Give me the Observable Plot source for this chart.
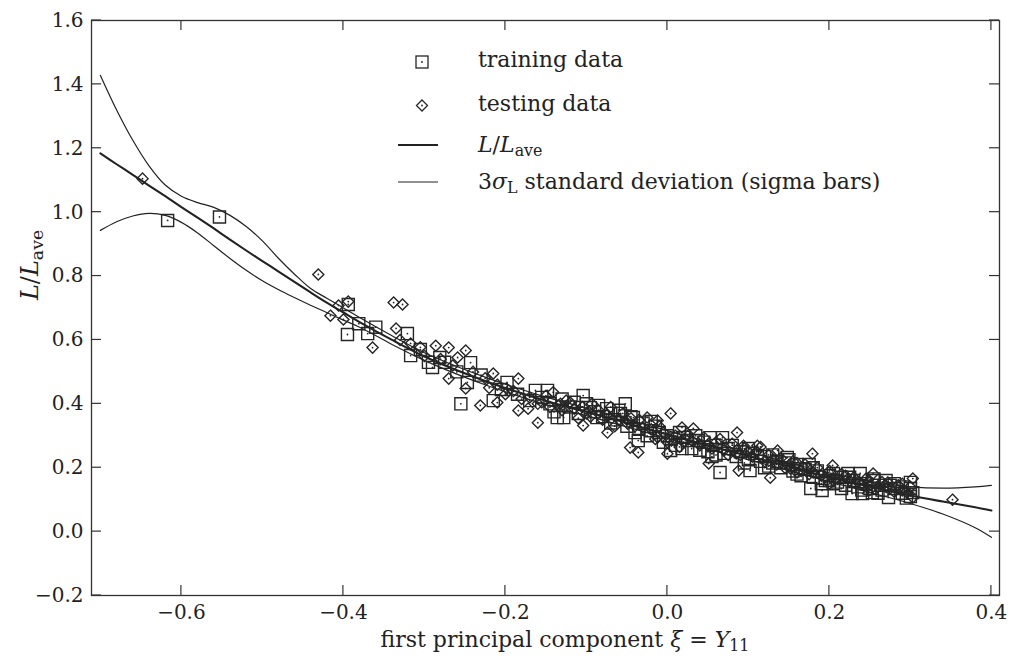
<!DOCTYPE html>
<html><head><meta charset="utf-8">
<script src="https://cdn.jsdelivr.net/npm/d3@7"></script>
<script src="https://cdn.jsdelivr.net/npm/@observablehq/plot@0.6"></script>
<style>
body{margin:0;background:#fff;}
#wrap{position:relative;width:1016px;height:666px;}
#ov{position:absolute;left:0;top:0;pointer-events:none;}
</style></head><body><div id="wrap"></div>
<script>
// x ticks / y ticks
const xTicks = [-0.6, -0.4, -0.2, 0.0, 0.2, 0.4];
const yTicks = [-0.2, 0.0, 0.2, 0.4, 0.6, 0.8, 1.0, 1.2, 1.4, 1.6];
const xDomain = [-0.711, 0.41];
const yDomain = [-0.2, 1.6];

// curve abscissae
const curveX = [-0.70,-0.68,-0.66,-0.64,-0.62,-0.60,-0.58,-0.56,-0.54,-0.52,-0.50,-0.48,-0.46,-0.44,-0.42,-0.40,-0.38,-0.34,-0.30,-0.26,-0.22,-0.18,-0.14,-0.10,-0.06,-0.02,0.02,0.06,0.10,0.14,0.18,0.22,0.26,0.30,0.34,0.38,0.40];
// L/L_ave mean line
const meanL = [1.184,1.150,1.117,1.083,1.050,1.016,0.983,0.949,0.914,0.880,0.847,0.814,0.781,0.748,0.716,0.686,0.656,0.600,0.548,0.505,0.467,0.433,0.402,0.375,0.347,0.318,0.290,0.263,0.237,0.210,0.183,0.158,0.135,0.113,0.094,0.076,0.066];
// upper 3 sigma
const upperL = [1.428,1.320,1.225,1.145,1.085,1.050,1.030,1.015,0.990,0.955,0.910,0.855,0.805,0.760,0.730,0.700,0.670,0.613,0.560,0.517,0.479,0.445,0.414,0.387,0.359,0.330,0.302,0.275,0.249,0.222,0.196,0.172,0.153,0.140,0.136,0.140,0.145];
// lower 3 sigma
const lowerL = [0.943,0.970,0.988,0.996,0.990,0.968,0.935,0.895,0.855,0.818,0.785,0.757,0.732,0.708,0.685,0.662,0.640,0.586,0.536,0.493,0.455,0.421,0.390,0.363,0.335,0.306,0.278,0.251,0.225,0.198,0.170,0.143,0.116,0.088,0.055,0.012,-0.018];

// training data [xi, L/Lave]
const trainingData = [
[-0.617,0.974],[-0.553,0.985],
[-0.394,0.711],[-0.381,0.651],[-0.395,0.617],[-0.321,0.62],[-0.317,0.551],
[-0.290,0.514],[-0.281,0.545],[-0.243,0.529],[-0.247,0.467],[-0.255,0.40],[-0.215,0.41],[-0.198,0.467],[-0.163,0.442],[-0.148,0.442],[-0.136,0.357],[-0.295,0.53],
[-0.104,0.426],[-0.052,0.40],[-0.058,0.37],[-0.070,0.37],[-0.128,0.357],[-0.042,0.357],[-0.036,0.285],[0.004,0.254],[0.018,0.26],[-0.021,0.316],[-0.095,0.388],[-0.087,0.357],
[0.065,0.185],[0.068,0.294],[0.053,0.294],[0.111,0.238],[0.148,0.232],[0.102,0.191],[0.177,0.135],[0.191,0.129],[0.205,0.182],[0.164,0.197],[0.038,0.285],
[0.228,0.119],[0.241,0.119],[0.253,0.122],[0.223,0.182],[0.238,0.182],[0.273,0.107],[0.30,0.154],[0.303,0.122],[0.205,0.15],[0.254,0.16],
[-0.305,0.57],[-0.275,0.53],[-0.26,0.50],[-0.23,0.49],[-0.205,0.445],[-0.185,0.43],[-0.36,0.64],[-0.37,0.62],
[-0.12,0.39],[-0.11,0.37],[-0.10,0.40],[-0.09,0.375],[-0.08,0.36],[-0.075,0.385],[-0.065,0.35],[-0.06,0.38],[-0.05,0.33],[-0.045,0.36],[-0.03,0.34],[-0.025,0.30],[-0.015,0.33],[-0.01,0.31],[-0.005,0.28],[0.0,0.30],[0.01,0.27],[0.015,0.31],[0.025,0.285],[0.03,0.26],[0.045,0.28],[0.05,0.25],[0.06,0.27],[0.07,0.245],[0.075,0.26],[0.085,0.235],[0.09,0.25],[0.10,0.225],[0.105,0.245],[0.115,0.22],[0.12,0.235],[0.125,0.205],[0.135,0.22],[0.14,0.20],[0.145,0.215],[0.155,0.19],[0.16,0.21],[0.165,0.175],[0.17,0.195],[0.18,0.17],[0.185,0.19],[0.195,0.16],[0.20,0.175],[0.21,0.155],[0.215,0.17],[0.22,0.145],[0.23,0.16],[0.235,0.14],[0.245,0.15],[0.25,0.135],[0.26,0.145],[0.265,0.13],[0.28,0.135],[0.29,0.12],[0.30,0.135],[0.30,0.11],[-0.17,0.41],[-0.155,0.42],[-0.145,0.40],[-0.13,0.415],[-0.085,0.395],[-0.035,0.32],[0.035,0.30],[0.055,0.235],[0.095,0.215],[0.13,0.24],[0.175,0.21],[0.19,0.15],[0.255,0.165],[0.275,0.145],
[-0.14,0.375],[-0.115,0.405],[-0.07,0.34],[-0.04,0.31],[-0.02,0.345],[0.005,0.29],[0.02,0.295],[0.04,0.255],[0.06,0.24],[0.08,0.27],[0.1,0.26],[0.12,0.20],[0.13,0.215],[0.15,0.225],[0.16,0.18],[0.18,0.20],[0.2,0.16],[0.215,0.135],[0.225,0.17],[0.24,0.13],[0.26,0.12],[0.28,0.15],[0.29,0.14],[0.295,0.105],[0.27,0.16]
];

// testing data [xi, L/Lave]
const testingData = [
[-0.648,1.105],[-0.431,0.805],[-0.338,0.717],[-0.327,0.711],[-0.406,0.708],[-0.394,0.72],[-0.416,0.676],[-0.40,0.664],[-0.364,0.576],[-0.335,0.636],[-0.33,0.60],
[-0.286,0.582],[-0.270,0.576],[-0.249,0.567],[-0.317,0.589],[-0.305,0.577],[-0.259,0.545],[-0.270,0.479],[-0.249,0.448],[-0.231,0.395],[-0.210,0.404],[-0.215,0.495],[-0.184,0.479],[-0.196,0.442],[-0.184,0.379],[-0.160,0.341],[-0.141,0.436],[-0.172,0.385],
[-0.120,0.404],[-0.093,0.40],[-0.104,0.332],[-0.074,0.31],[-0.049,0.338],[-0.025,0.357],[-0.012,0.348],[0.004,0.37],[-0.046,0.263],[-0.036,0.248],[0.0,0.244],[0.018,0.326],[0.032,0.323],[-0.012,0.295],[-0.132,0.40],
[0.086,0.31],[0.051,0.213],[0.088,0.191],[0.136,0.254],[0.179,0.244],[0.204,0.207],[0.094,0.269],[0.111,0.269],[0.152,0.197],[0.127,0.169],
[0.254,0.182],[0.272,0.154],[0.290,0.129],[0.303,0.166],[0.303,0.107],[0.352,0.10],
[-0.30,0.55],[-0.28,0.54],[-0.265,0.52],[-0.24,0.50],[-0.225,0.48],[-0.21,0.46],
[-0.17,0.42],[-0.16,0.40],[-0.15,0.425],[-0.13,0.38],[-0.125,0.41],[-0.115,0.385],[-0.105,0.39],[-0.095,0.36],[-0.085,0.38],[-0.08,0.35],[-0.07,0.39],[-0.06,0.35],[-0.055,0.37],[-0.04,0.33],[-0.035,0.35],[-0.02,0.32],[-0.015,0.29],[-0.005,0.31],[0.005,0.285],[0.01,0.30],[0.02,0.28],[0.025,0.30],[0.04,0.27],[0.045,0.295],[0.055,0.26],[0.06,0.28],[0.07,0.255],[0.08,0.275],[0.085,0.245],[0.095,0.26],[0.105,0.235],[0.11,0.25],[0.12,0.22],[0.125,0.24],[0.135,0.21],[0.14,0.23],[0.15,0.205],[0.155,0.22],[0.165,0.19],[0.17,0.21],[0.175,0.18],[0.185,0.2],[0.19,0.175],[0.20,0.19],[0.21,0.165],[0.215,0.18],[0.225,0.16],[0.23,0.17],[0.24,0.15],[0.245,0.165],[0.26,0.14],[0.265,0.155],[0.275,0.135],[0.285,0.145],[0.295,0.125],[0.30,0.14],[-0.22,0.45],[-0.20,0.43],[-0.19,0.44],[-0.18,0.415],[-0.145,0.39],[-0.11,0.355],[-0.065,0.33],[-0.045,0.355],[0.015,0.265],[0.065,0.29],[0.115,0.265],[0.16,0.185],[0.2,0.15],[0.25,0.13],
[-0.155,0.405],[-0.135,0.395],[-0.1,0.37],[-0.075,0.365],[-0.05,0.35],[-0.03,0.325],[-0.01,0.33],[0.0,0.28],[0.03,0.285],[0.05,0.27],[0.075,0.24],[0.09,0.24],[0.1,0.25],[0.13,0.225],[0.145,0.2],[0.16,0.215],[0.18,0.185],[0.195,0.17],[0.205,0.16],[0.22,0.175],[0.235,0.155],[0.25,0.145],[0.27,0.14],[0.28,0.125],[0.29,0.15]
];

const legendLabels = ["training data", "testing data", "L/L_ave", "3σ_L standard deviation (sigma bars)"];

const curves = curveX.map((x, i) => ({x, mean: meanL[i], upper: upperL[i], lower: lowerL[i]}));
const ink = "#222";
const mk = "#262626";
const fmt = d3.format(".1f");
const W = 1016, H = 666, mT = 20, mB = 71, mL = 91, mR = 17, tick = 10;

const chart = Plot.plot({
  width: W, height: H,
  marginTop: mT, marginBottom: mB, marginLeft: mL, marginRight: mR,
  style: {fontFamily: "'DejaVu Serif', serif", fontSize: "20px", color: ink, background: "#fff", overflow: "visible"},
  x: {domain: xDomain},
  y: {domain: yDomain},
  marks: [
    Plot.line(curves, {x: "x", y: "upper", stroke: ink, strokeWidth: 1.2, curve: "catmull-rom"}),
    Plot.line(curves, {x: "x", y: "lower", stroke: ink, strokeWidth: 1.2, curve: "catmull-rom"}),
    Plot.line(curves, {x: "x", y: "mean", stroke: ink, strokeWidth: 2.1, curve: "catmull-rom"}),
    Plot.dot(trainingData, {x: d => d[0], y: d => d[1], symbol: "square", r: 6.8, stroke: mk, strokeWidth: 1.4, fill: "none"}),
    Plot.dot(trainingData, {x: d => d[0], y: d => d[1], r: 0.9, fill: mk, stroke: null}),
    Plot.dot(testingData, {x: d => d[0], y: d => d[1], symbol: "diamond2", r: 5, stroke: mk, strokeWidth: 1.4, fill: "none"}),
    Plot.dot(testingData, {x: d => d[0], y: d => d[1], r: 0.9, fill: mk, stroke: null}),
    Plot.frame({stroke: "#333", strokeWidth: 1.3}),
    Plot.axisX(xTicks, {anchor: "bottom", tickSize: 0, tickPadding: 9, tickFormat: fmt, label: null}),
    Plot.axisY(yTicks, {anchor: "left", tickSize: 0, tickPadding: 8, tickFormat: fmt, label: null})
  ]
});
const wrap = document.getElementById("wrap");
wrap.appendChild(chart);

// overlay: inward ticks (positioned with the chart's own scales), legend, axis titles
const sx = chart.scale("x"), sy = chart.scale("y");
const NS = "http://www.w3.org/2000/svg";
const ov = document.createElementNS(NS, "svg");
ov.setAttribute("id", "ov");
ov.setAttribute("width", W); ov.setAttribute("height", H);
ov.setAttribute("font-family", "'DejaVu Serif', serif");
ov.setAttribute("fill", ink);
wrap.appendChild(ov);

function el(tag, attrs, parent) {
  const e = document.createElementNS(NS, tag);
  for (const k in attrs) e.setAttribute(k, attrs[k]);
  (parent || ov).appendChild(e);
  return e;
}
function rich(parent, parts) {
  for (const [t, s] of parts) {
    const ts = el("tspan", {}, parent);
    ts.textContent = t;
    if (s === "i") ts.setAttribute("font-style", "italic");
    if (s === "sub") { ts.setAttribute("baseline-shift", "-28%"); ts.setAttribute("font-size", "0.72em"); }
  }
}

// ticks on all four sides, pointing inward
const x0 = sx.apply(xDomain[0]), x1 = sx.apply(xDomain[1]);
const y0 = sy.apply(yDomain[0]), y1 = sy.apply(yDomain[1]);
const tk = {stroke: "#333", "stroke-width": 1.2};
for (const t of xTicks) {
  const px = sx.apply(t);
  el("line", {x1: px, x2: px, y1: y0, y2: y0 - tick, ...tk});
  el("line", {x1: px, x2: px, y1: y1, y2: y1 + tick, ...tk});
}
for (const t of yTicks) {
  const py = sy.apply(t);
  el("line", {x1: x0, x2: x0 + tick, y1: py, y2: py, ...tk});
  el("line", {x1: x1, x2: x1 - tick, y1: py, y2: py, ...tk});
}

// legend symbols
const lx = 422;
el("rect", {x: lx - 6, y: 56, width: 12, height: 12, fill: "none", stroke: mk, "stroke-width": 1.3});
el("circle", {cx: lx, cy: 62, r: 0.9, fill: mk});
el("path", {d: `M${lx},${100} L${lx + 5.5},${105.5} L${lx},${111} L${lx - 5.5},${105.5} Z`, fill: "none", stroke: mk, "stroke-width": 1.3});
el("circle", {cx: lx, cy: 105.5, r: 0.9, fill: mk});
el("line", {x1: 398, x2: 438, y1: 145, y2: 145, stroke: ink, "stroke-width": 2.1});
el("line", {x1: 398, x2: 438, y1: 182, y2: 182, stroke: ink, "stroke-width": 1.2});

const t1 = el("text", {x: 478, y: 67, "font-size": 22}); t1.textContent = legendLabels[0];
const t2 = el("text", {x: 478, y: 111, "font-size": 22}); t2.textContent = legendLabels[1];
const t3 = el("text", {x: 478, y: 152, "font-size": 22});
rich(t3, [["L", "i"], ["/", ""], ["L", "i"], ["ave", "sub"]]);
const t4 = el("text", {x: 478, y: 189, "font-size": 22});
rich(t4, [["3", ""], ["σ", "i"], ["L", "sub"], [" standard deviation (sigma bars)", ""]]);

// x label
const xl = el("text", {x: 565, y: 647, "font-size": 22, "text-anchor": "middle"});
rich(xl, [["first principal component ", ""], ["ξ", "i"], [" = ", ""], ["Y", "i"], ["11", "sub"]]);
// y label
const yl = el("text", {transform: "translate(38,265) rotate(-90)", "font-size": 24, "text-anchor": "middle"});
rich(yl, [["L", "i"], ["/", ""], ["L", "i"], ["ave", "sub"]]);
</script></body></html>
